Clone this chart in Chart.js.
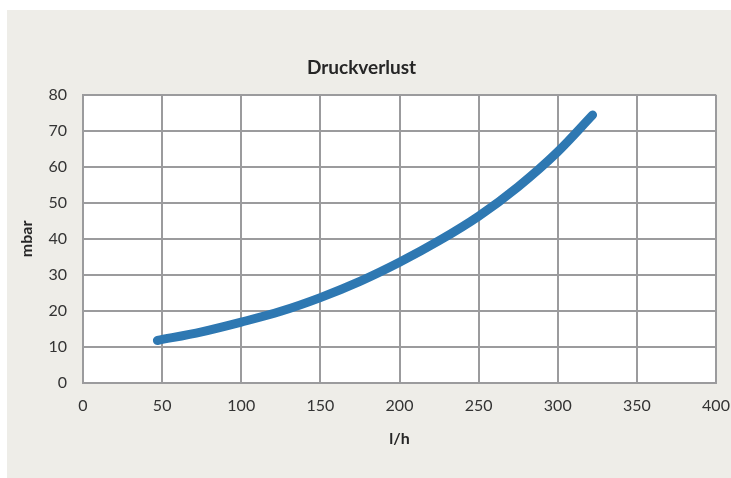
<!DOCTYPE html>
<html>
<head>
<meta charset="utf-8">
<script src="https://cdn.jsdelivr.net/npm/chart.js@4/dist/chart.umd.min.js"></script>
<style>
  html, body { margin: 0; padding: 0; background: #ffffff; }
  #frame { position: absolute; left: 7px; top: 10px; width: 724px; height: 468px; background: #eeede8; }
  canvas { display: block; }
</style>
</head>
<body>
<div id="frame"><canvas id="druck" width="724" height="468"></canvas></div>
<script>
// values
const flow = [47, 75, 100, 125, 150, 175, 200, 225, 250, 275, 300, 322];      // l/h
const pressure = [11.8, 14.2, 16.9, 19.9, 23.7, 28.2, 33.5, 39.5, 46.3, 54.5, 64.2, 74.4]; // mbar
const xTicks = [0, 50, 100, 150, 200, 250, 300, 350, 400];
const yTicks = [0, 10, 20, 30, 40, 50, 60, 70, 80];

const gridGray = '#9b9b9d';
const textGray = '#333333';
const fam = 'Lato, "Open Sans", sans-serif';

const points = flow.map((f, i) => ({ x: f, y: pressure[i] }));

// white plot area, the rest of the frame stays beige
const plotBackground = {
    id: 'plotBackground',
    beforeDraw(chart) {
        const { ctx, chartArea: a } = chart;
        ctx.save();
        ctx.fillStyle = '#ffffff';
        ctx.fillRect(a.left, a.top, a.right - a.left, a.bottom - a.top);
        ctx.restore();
    }
};

const ctx = document.getElementById('druck').getContext('2d');
new Chart(ctx, {
    type: 'scatter',
    data: {
        datasets: [{
            data: points,
            showLine: true,
            borderColor: '#2e78b2',
            borderWidth: 9,
            borderCapStyle: 'round',
            borderJoinStyle: 'round',
            pointRadius: 0,
            pointHoverRadius: 0,
            tension: 0.4,
            cubicInterpolationMode: 'monotone'
        }]
    },
    options: {
        responsive: false,
        animation: false,
        layout: { padding: { left: 0, right: 15, top: 0, bottom: 0 } },
        plugins: {
            legend: { display: false },
            tooltip: { enabled: false },
            title: {
                display: true,
                text: 'Druckverlust',
                color: '#262626',
                font: { family: fam, size: 19, weight: 'bold' },
                padding: { top: 46, bottom: 16 }
            }
        },
        scales: {
            x: {
                type: 'linear',
                min: 0,
                max: 400,
                afterBuildTicks: s => { s.ticks = xTicks.map(v => ({ value: v })); },
                afterFit: s => { s.height = 95; s.paddingRight = 0; s.paddingLeft = 0; },
                grid: { color: gridGray, lineWidth: 2, drawTicks: false },
                border: { color: gridGray, width: 2 },
                ticks: { color: textGray, font: { family: fam, size: 16 }, padding: 13 },
                title: {
                    display: true,
                    text: 'l/h',
                    color: '#262626',
                    font: { family: fam, size: 16, weight: 'bold' },
                    padding: { top: 0, bottom: 30 }
                }
            },
            y: {
                type: 'linear',
                min: 0,
                max: 80,
                afterBuildTicks: s => { s.ticks = yTicks.map(v => ({ value: v })); },
                afterFit: s => { s.width = 76; },
                grid: { color: gridGray, lineWidth: 2, drawTicks: false },
                border: { color: gridGray, width: 2 },
                ticks: { color: textGray, font: { family: fam, size: 16 }, padding: 16 },
                title: {
                    display: true,
                    text: 'mbar',
                    color: '#262626',
                    font: { family: fam, size: 16, weight: 'bold' },
                    padding: { top: 10, bottom: 0 }
                }
            }
        }
    },
    plugins: [plotBackground]
});
</script>
</body>
</html>
